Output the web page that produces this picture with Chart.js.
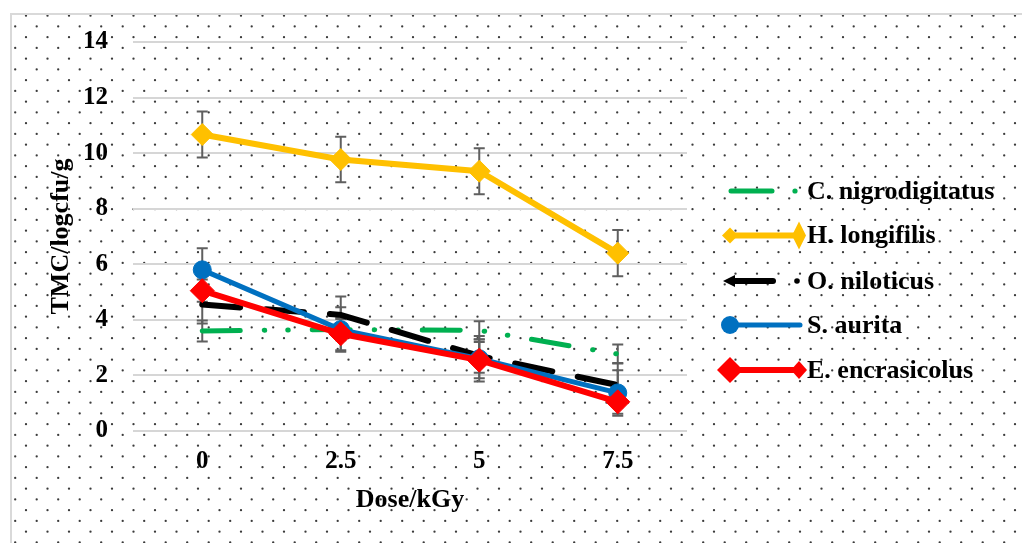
<!DOCTYPE html>
<html lang="en">
  <head>
    <meta charset="UTF-8" />
    <title>TMC vs dose</title>
    <script src="https://cdn.jsdelivr.net/npm/chart.js"></script>
    <style>
      body { margin: 0; background: #fff; }
    </style>
  </head>
  <body>
    <canvas id="chart" width="1022" height="543"></canvas>

    <script>
      // dose levels (kGy)
      const doses = ["0", "2.5", "5", "7.5"];
      const yTicks = [0, 2, 4, 6, 8, 10, 12, 14];

      // TMC values (log cfu/g)
      const nigrodigitatus = [3.6, 3.65, 3.62, 2.77];
      const longifilis = [10.67, 9.77, 9.35, 6.4];
      const niloticus = [4.55, 4.18, 2.7, 1.65];
      const aurita = [5.8, 3.65, 2.6, 1.37];
      const encrasicolus = [5.05, 3.5, 2.55, 1.05];

      // error bar half lengths
      const nigrodigitatusErr = [0.38, 0.38, 0.33, 0.34];
      const longifilisErr = [0.83, 0.82, 0.83, 0.83];
      const niloticusErr = [0.68, 0.66, 0.6, 0.8];
      const auritaErr = [0.78, 0.8, 0.82, 0.82];
      const encrasicolusErr = [0.4, 0.59, 0.65, 0.43];

      const serif = '"Liberation Serif", "Times New Roman", serif';

      // dotted paper background + thin frame
      const backdrop = {
        id: "backdrop",
        beforeDraw(chart) {
          const ctx = chart.ctx;
          ctx.save();
          ctx.fillStyle = "#fff";
          ctx.fillRect(0, 0, chart.width, chart.height);
          ctx.fillStyle = "#3a3a3a";
          for (let r = 0; r < 51; r++) {
            const y = 15.7 + r * 10.75;
            const x0 = r % 2 === 0 ? 26 : 15.2;
            for (let x = x0; x < chart.width; x += 21.5) {
              ctx.beginPath();
              ctx.arc(x, y, 1.15, 0, Math.PI * 2);
              ctx.fill();
            }
          }
          ctx.strokeStyle = "#d9d9d9";
          ctx.lineWidth = 2;
          ctx.beginPath();
          ctx.moveTo(11, chart.height);
          ctx.lineTo(11, 14);
          ctx.lineTo(chart.width, 14);
          ctx.stroke();
          ctx.restore();
        },
      };

      // vertical error bars, drawn under the lines
      const errorBars = {
        id: "errorBars",
        beforeDatasetsDraw(chart) {
          const ctx = chart.ctx;
          const xs = chart.scales.x;
          const ys = chart.scales.y;
          ctx.save();
          ctx.strokeStyle = "#5f5f5f";
          ctx.lineWidth = 2;
          chart.data.datasets.forEach((ds) => {
            ds.data.forEach((v, i) => {
              const e = ds.errors[i];
              const x = xs.getPixelForValue(i);
              const top = ys.getPixelForValue(v + e);
              const bot = ys.getPixelForValue(v - e);
              ctx.beginPath();
              ctx.moveTo(x, top);
              ctx.lineTo(x, bot);
              ctx.moveTo(x - 5.5, top);
              ctx.lineTo(x + 5.5, top);
              ctx.moveTo(x - 5.5, bot);
              ctx.lineTo(x + 5.5, bot);
              ctx.stroke();
            });
          });
          ctx.restore();
        },
      };

      function diamond(ctx, x, y, rx, ry, color) {
        ctx.fillStyle = color;
        ctx.beginPath();
        ctx.moveTo(x, y - ry);
        ctx.lineTo(x + rx, y);
        ctx.lineTo(x, y + ry);
        ctx.lineTo(x - rx, y);
        ctx.closePath();
        ctx.fill();
      }

      // legend on the right, drawn by hand to get the line samples
      const sideLegend = {
        id: "sideLegend",
        afterDraw(chart) {
          const ctx = chart.ctx;
          const rows = [191, 235.5, 281, 325, 370];
          const x1 = 730;
          const x2 = 800;
          ctx.save();
          ctx.lineCap = "round";

          // C. nigrodigitatus
          ctx.strokeStyle = "#00B050";
          ctx.lineWidth = 5;
          ctx.beginPath();
          ctx.moveTo(731, rows[0]);
          ctx.lineTo(772, rows[0]);
          ctx.stroke();
          ctx.fillStyle = "#00B050";
          ctx.beginPath();
          ctx.arc(795, rows[0], 2.6, 0, Math.PI * 2);
          ctx.fill();

          // H. longifilis
          ctx.strokeStyle = "#FFC000";
          ctx.lineWidth = 6;
          ctx.lineCap = "butt";
          ctx.beginPath();
          ctx.moveTo(x1, rows[1]);
          ctx.lineTo(x2, rows[1]);
          ctx.stroke();
          diamond(ctx, x1, rows[1], 8, 8, "#FFC000");
          diamond(ctx, 799, rows[1], 7, 14, "#FFC000");

          // O. niloticus
          ctx.strokeStyle = "#000";
          ctx.lineWidth = 6;
          ctx.lineCap = "round";
          ctx.beginPath();
          ctx.moveTo(733, rows[2]);
          ctx.lineTo(773, rows[2]);
          ctx.stroke();
          ctx.fillStyle = "#000";
          ctx.beginPath();
          ctx.moveTo(723, rows[2]);
          ctx.lineTo(735, rows[2] - 6);
          ctx.lineTo(735, rows[2] + 6);
          ctx.closePath();
          ctx.fill();
          ctx.beginPath();
          ctx.arc(797, rows[2], 2.8, 0, Math.PI * 2);
          ctx.fill();

          // S. aurita
          ctx.strokeStyle = "#0070C0";
          ctx.lineWidth = 5;
          ctx.beginPath();
          ctx.moveTo(x1, rows[3]);
          ctx.lineTo(x2, rows[3]);
          ctx.stroke();
          ctx.fillStyle = "#0070C0";
          ctx.beginPath();
          ctx.arc(x1, rows[3], 9, 0, Math.PI * 2);
          ctx.fill();

          // E. encrasicolus
          ctx.strokeStyle = "#FF0000";
          ctx.lineWidth = 6;
          ctx.lineCap = "butt";
          ctx.beginPath();
          ctx.moveTo(x1, rows[4]);
          ctx.lineTo(x2, rows[4]);
          ctx.stroke();
          diamond(ctx, 730, rows[4], 13, 13, "#FF0000");
          diamond(ctx, 799, rows[4], 8, 9, "#FF0000");

          ctx.fillStyle = "#000";
          ctx.font = "bold 26px " + serif;
          ctx.textBaseline = "middle";
          const names = [
            "C. nigrodigitatus",
            "H. longifilis",
            "O. niloticus",
            "S. aurita",
            "E. encrasicolus",
          ];
          names.forEach((n, i) => ctx.fillText(n, 807, rows[i] + 1));
          ctx.restore();
        },
      };

      new Chart(document.getElementById("chart"), {
        type: "line",
        data: {
          labels: doses,
          datasets: [
            {
              label: "C. nigrodigitatus",
              data: nigrodigitatus,
              errors: nigrodigitatusErr,
              borderColor: "#00B050",
              borderWidth: 5,
              borderDash: [38, 24, 0.5, 23, 0.5, 24],
              borderCapStyle: "round",
              pointRadius: 0,
              order: 5,
            },
            {
              label: "H. longifilis",
              data: longifilis,
              errors: longifilisErr,
              borderColor: "#FFC000",
              backgroundColor: "#FFC000",
              borderWidth: 6,
              pointStyle: "rectRot",
              pointRadius: 11,
              pointBorderWidth: 1,
              order: 4,
            },
            {
              label: "O. niloticus",
              data: niloticus,
              errors: niloticusErr,
              borderColor: "#000000",
              borderWidth: 6,
              borderDash: [38, 26],
              borderCapStyle: "round",
              pointRadius: 0,
              order: 3,
            },
            {
              label: "S. aurita",
              data: aurita,
              errors: auritaErr,
              borderColor: "#0070C0",
              backgroundColor: "#0070C0",
              borderWidth: 5,
              pointStyle: "circle",
              pointRadius: 9,
              pointBorderWidth: 1,
              order: 2,
            },
            {
              label: "E. encrasicolus",
              data: encrasicolus,
              errors: encrasicolusErr,
              borderColor: "#FF0000",
              backgroundColor: "#FF0000",
              borderWidth: 6,
              pointStyle: "rectRot",
              pointRadius: 12,
              pointBorderWidth: 1,
              order: 1,
            },
          ],
        },
        options: {
          responsive: false,
          animation: false,
          layout: { padding: { top: 42, right: 335, bottom: 0, left: 0 } },
          elements: { line: { tension: 0 } },
          plugins: {
            legend: { display: false },
            tooltip: { enabled: false },
          },
          scales: {
            x: {
              offset: true,
              afterFit: (s) => { s.height = 112; },
              grid: { display: false, drawTicks: false },
              border: { display: false },
              ticks: {
                color: "#000",
                padding: 16,
                font: { family: serif, size: 25, weight: "bold" },
              },
              title: {
                display: true,
                text: "Dose/kGy",
                color: "#000",
                padding: { top: 0, bottom: 27 },
                font: { family: serif, size: 26, weight: "bold" },
              },
            },
            y: {
              min: 0,
              max: 14,
              afterFit: (s) => { s.width = 133; },
              afterBuildTicks: (s) => {
                s.ticks = yTicks.map((v) => ({ value: v }));
              },
              grid: { color: "#d6d6d6", lineWidth: 2, drawTicks: false },
              border: { display: false },
              ticks: {
                color: "#000",
                padding: 25,
                font: { family: serif, size: 25, weight: "bold" },
              },
              title: {
                display: true,
                text: "TMC/logcfu/g",
                color: "#000",
                padding: { top: 46, bottom: 0 },
                font: { family: serif, size: 26, weight: "bold" },
              },
            },
          },
        },
        plugins: [backdrop, errorBars, sideLegend],
      });
    </script>
  </body>
</html>
